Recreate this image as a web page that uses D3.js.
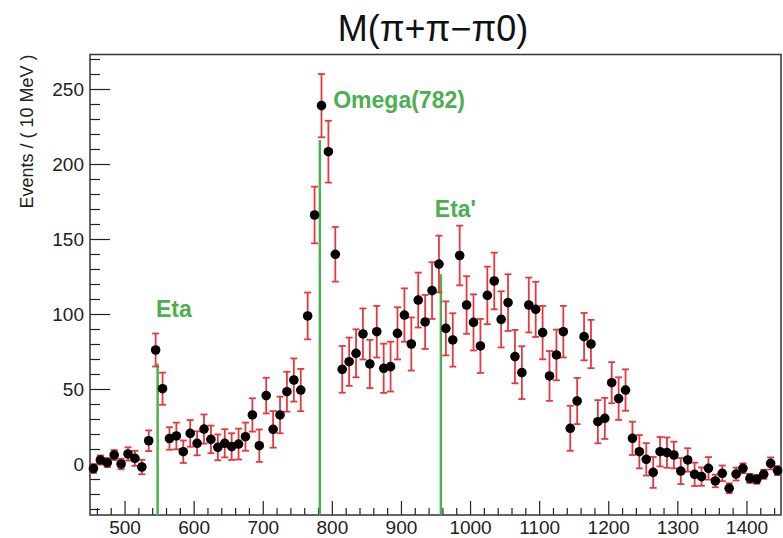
<!DOCTYPE html>
<html>
<head>
<meta charset="utf-8">
<script src="https://cdn.jsdelivr.net/npm/d3@7"></script>
<style>
  body { margin: 0; background: #fff; }
  text { font-family: "Liberation Sans", Arial, sans-serif; }
</style>
</head>
<body>
<svg id="chart" width="783" height="538"></svg>
<script>
// bin centres, MeV (10 MeV bins)
var massBins = [
  455, 465, 475, 485, 495, 505, 515, 525, 535, 545,
  555, 565, 575, 585, 595, 605, 615, 625, 635, 645,
  655, 665, 675, 685, 695, 705, 715, 725, 735, 745,
  755, 765, 775, 785, 795, 805, 815, 825, 835, 845,
  855, 865, 875, 885, 895, 905, 915, 925, 935, 945,
  955, 965, 975, 985, 995, 1005, 1015, 1025, 1035, 1045,
  1055, 1065, 1075, 1085, 1095, 1105, 1115, 1125, 1135, 1145,
  1155, 1165, 1175, 1185, 1195, 1205, 1215, 1225, 1235, 1245,
  1255, 1265, 1275, 1285, 1295, 1305, 1315, 1325, 1335, 1345,
  1355, 1365, 1375, 1385, 1395, 1405, 1415, 1425, 1435, 1445
];

var events = [
  -3, 2.7, 0.9, 6, 0, 6.7, 3.8, -2, 15.5, 76,
  50.2, 17, 18.7, 8.2, 20.4, 13.8, 23.3, 16.4, 11.1, 13.8,
  11.6, 13.3, 18.2, 32.7, 12.2, 45.6, 23.1, 32.7, 48.2, 56,
  49.3, 98.7, 166, 238.9, 208.2, 139.8, 63.1, 68.2, 73.8, 86.7,
  66.7, 88.2, 63.8, 64.9, 87.1, 99.3, 80, 109.3, 94.7, 115.6,
  133.3, 90.4, 82.7, 139, 106, 94.4, 78.7, 112.4, 122, 96.4,
  107.6, 71.6, 60.9, 106, 103.1, 87.6, 58.7, 72.7, 88.2, 23.8,
  42, 84.9, 80, 28.2, 30.4, 54.2, 43.6, 49.3, 17.1, 8.2,
  3.1, -5.6, 8.2, 7.6, 6, -4.7, 2.7, -6.9, -8.4, -2.9,
  -11.3, -6.2, -16.2, -6.7, -2.9, -9.6, -10.2, -6.9, 0.4, -4.4
];

var errors = [
  3, 3, 3, 3.3, 3.5, 4.4, 5, 4.8, 6.9, 11,
  10.7, 7.5, 8.9, 7.5, 8.9, 8, 9.7, 9.2, 8.6, 9.4,
  8.9, 10.3, 9.4, 11.1, 10.8, 11.9, 12.2, 12.2, 13.3, 14.4,
  14.1, 15.6, 18.9, 21.1, 20.6, 18.2, 15.6, 16.1, 16, 17,
  16.1, 17.2, 16.4, 16.6, 17.4, 17.8, 17.7, 18.3, 18, 18.9,
  18.9, 18, 17.8, 19.9, 19.2, 18.7, 18, 19.2, 18.9, 18.7,
  18.9, 17.8, 17.6, 18.3, 18.4, 17.8, 16.6, 16.9, 17.2, 15,
  15.4, 15.8, 16.1, 14.4, 13.7, 13.7, 14.2, 13.8, 11.1, 11.1,
  10.8, 10.3, 9.8, 10.1, 8.9, 8.7, 7.8, 7.8, 6.1, 7.5,
  4.2, 5.2, 3.3, 4.3, 3.3, 3, 3, 3, 4, 3
];

var peakNames = ["Eta", "Omega(782)", "Eta'"];
var peakMasses = [547.86, 782.65, 957.78];
var peakHeights = [67, 216, 126.5];
var peakLabelMasses = [545.5, 802, 949];
var peakLabelEvents = [98, 237.5, 164.5];

var xMajorTicks = [500, 600, 700, 800, 900, 1000, 1100, 1200, 1300, 1400];
var yMajorTicks = [0, 50, 100, 150, 200, 250];

var xDomain = [450, 1450];
var yDomain = [-34, 273];

var svg = d3.select("#chart");
var frame = { left: 90, right: 781, top: 54.5, bottom: 515 };

var x = d3.scaleLinear().domain(xDomain).range([frame.left, frame.right]);
var y = d3.scaleLinear().domain(yDomain).range([frame.bottom, frame.top]);

/**
 * ROOT style axes: ticks inside the frame, minor ticks from the scale.
 */
function drawAxes() {
  "use strict";
  var xMinor = d3.range(460, 1450, 20).filter(function (v) { return xMajorTicks.indexOf(v) < 0; });
  var yMinor = d3.range(-30, 271, 10).filter(function (v) { return yMajorTicks.indexOf(v) < 0; });

  var xAxis = d3.axisBottom(x).tickValues(xMajorTicks).tickSize(-14).tickPadding(8)
    .tickFormat(d3.format("d"));
  var xAxisMinor = d3.axisBottom(x).tickValues(xMinor).tickSize(-7).tickFormat("");
  var yAxis = d3.axisLeft(y).tickValues(yMajorTicks).tickSize(-20).tickPadding(6)
    .tickFormat(d3.format("d"));
  var yAxisMinor = d3.axisLeft(y).tickValues(yMinor).tickSize(-10).tickFormat("");

  var gx = svg.append("g").attr("transform", "translate(0," + frame.bottom + ")");
  gx.call(xAxis);
  gx.append("g").call(xAxisMinor);
  var gy = svg.append("g").attr("transform", "translate(" + frame.left + ",0)");
  gy.call(yAxis);
  gy.append("g").call(yAxisMinor);

  svg.selectAll(".domain").remove();
  svg.selectAll(".tick line").attr("stroke", "#222").attr("stroke-width", 1.2);
  gx.selectAll(".tick text").attr("font-size", 19).attr("fill", "#222")
    .attr("font-family", "Liberation Sans, Arial, sans-serif").attr("dy", "0.6em");
  gy.selectAll(".tick text").attr("font-size", 19).attr("fill", "#222")
    .attr("font-family", "Liberation Sans, Arial, sans-serif");

  svg.append("rect")
    .attr("x", frame.left).attr("y", frame.top)
    .attr("width", frame.right - frame.left).attr("height", frame.bottom - frame.top)
    .attr("fill", "none").attr("stroke", "#333").attr("stroke-width", 1.5);
}

function drawPeaks() {
  "use strict";
  var g = svg.append("g").attr("class", "peaks");
  g.selectAll("line").data(peakMasses).enter()
    .append("line")
    .attr("x1", function (m) { return x(m); })
    .attr("x2", function (m) { return x(m); })
    .attr("y1", frame.bottom)
    .attr("y2", function (m, i) { return y(peakHeights[i]); })
    .attr("stroke", "#4cb050").attr("stroke-width", 2.5);

  g.selectAll("text").data(peakNames).enter()
    .append("text")
    .attr("x", function (n, i) { return x(peakLabelMasses[i]); })
    .attr("y", function (n, i) { return y(peakLabelEvents[i]); })
    .attr("fill", "#4cb050")
    .attr("font-size", 23).attr("font-weight", "bold")
    .text(function (n) { return n; });
}

function drawPoints() {
  "use strict";
  var pts = massBins.map(function (m, i) {
    return { m: m, v: events[i], e: errors[i] };
  });
  var g = svg.append("g").attr("class", "points");
  var bars = g.selectAll("g.err").data(pts).enter().append("g").attr("class", "err")
    .attr("stroke", "#e8383d").attr("stroke-width", 1.8);
  bars.append("line")
    .attr("x1", function (d) { return x(d.m); })
    .attr("x2", function (d) { return x(d.m); })
    .attr("y1", function (d) { return y(d.v - d.e); })
    .attr("y2", function (d) { return y(d.v + d.e); });
  bars.append("line")
    .attr("x1", function (d) { return x(d.m) - 3.5; })
    .attr("x2", function (d) { return x(d.m) + 3.5; })
    .attr("y1", function (d) { return y(d.v - d.e); })
    .attr("y2", function (d) { return y(d.v - d.e); });
  bars.append("line")
    .attr("x1", function (d) { return x(d.m) - 3.5; })
    .attr("x2", function (d) { return x(d.m) + 3.5; })
    .attr("y1", function (d) { return y(d.v + d.e); })
    .attr("y2", function (d) { return y(d.v + d.e); });

  g.selectAll("circle").data(pts).enter()
    .append("circle")
    .attr("cx", function (d) { return x(d.m); })
    .attr("cy", function (d) { return y(d.v); })
    .attr("r", 4.8)
    .attr("fill", "#000");
}

function drawTitles() {
  "use strict";
  svg.append("text")
    .attr("x", 433).attr("y", 41)
    .attr("text-anchor", "middle")
    .attr("font-size", 36).attr("fill", "#111")
    .text("M(\u03c0+\u03c0\u2212\u03c00)");

  svg.append("text")
    .attr("transform", "translate(33," + frame.top + ") rotate(-90)")
    .attr("text-anchor", "end")
    .attr("font-size", 18).attr("fill", "#222")
    .text("Events / ( 10 MeV )");
}

svg.append("rect").attr("width", 783).attr("height", 538).attr("fill", "#fff");
drawAxes();
drawPeaks();
drawPoints();
drawTitles();
</script>
</body>
</html>
